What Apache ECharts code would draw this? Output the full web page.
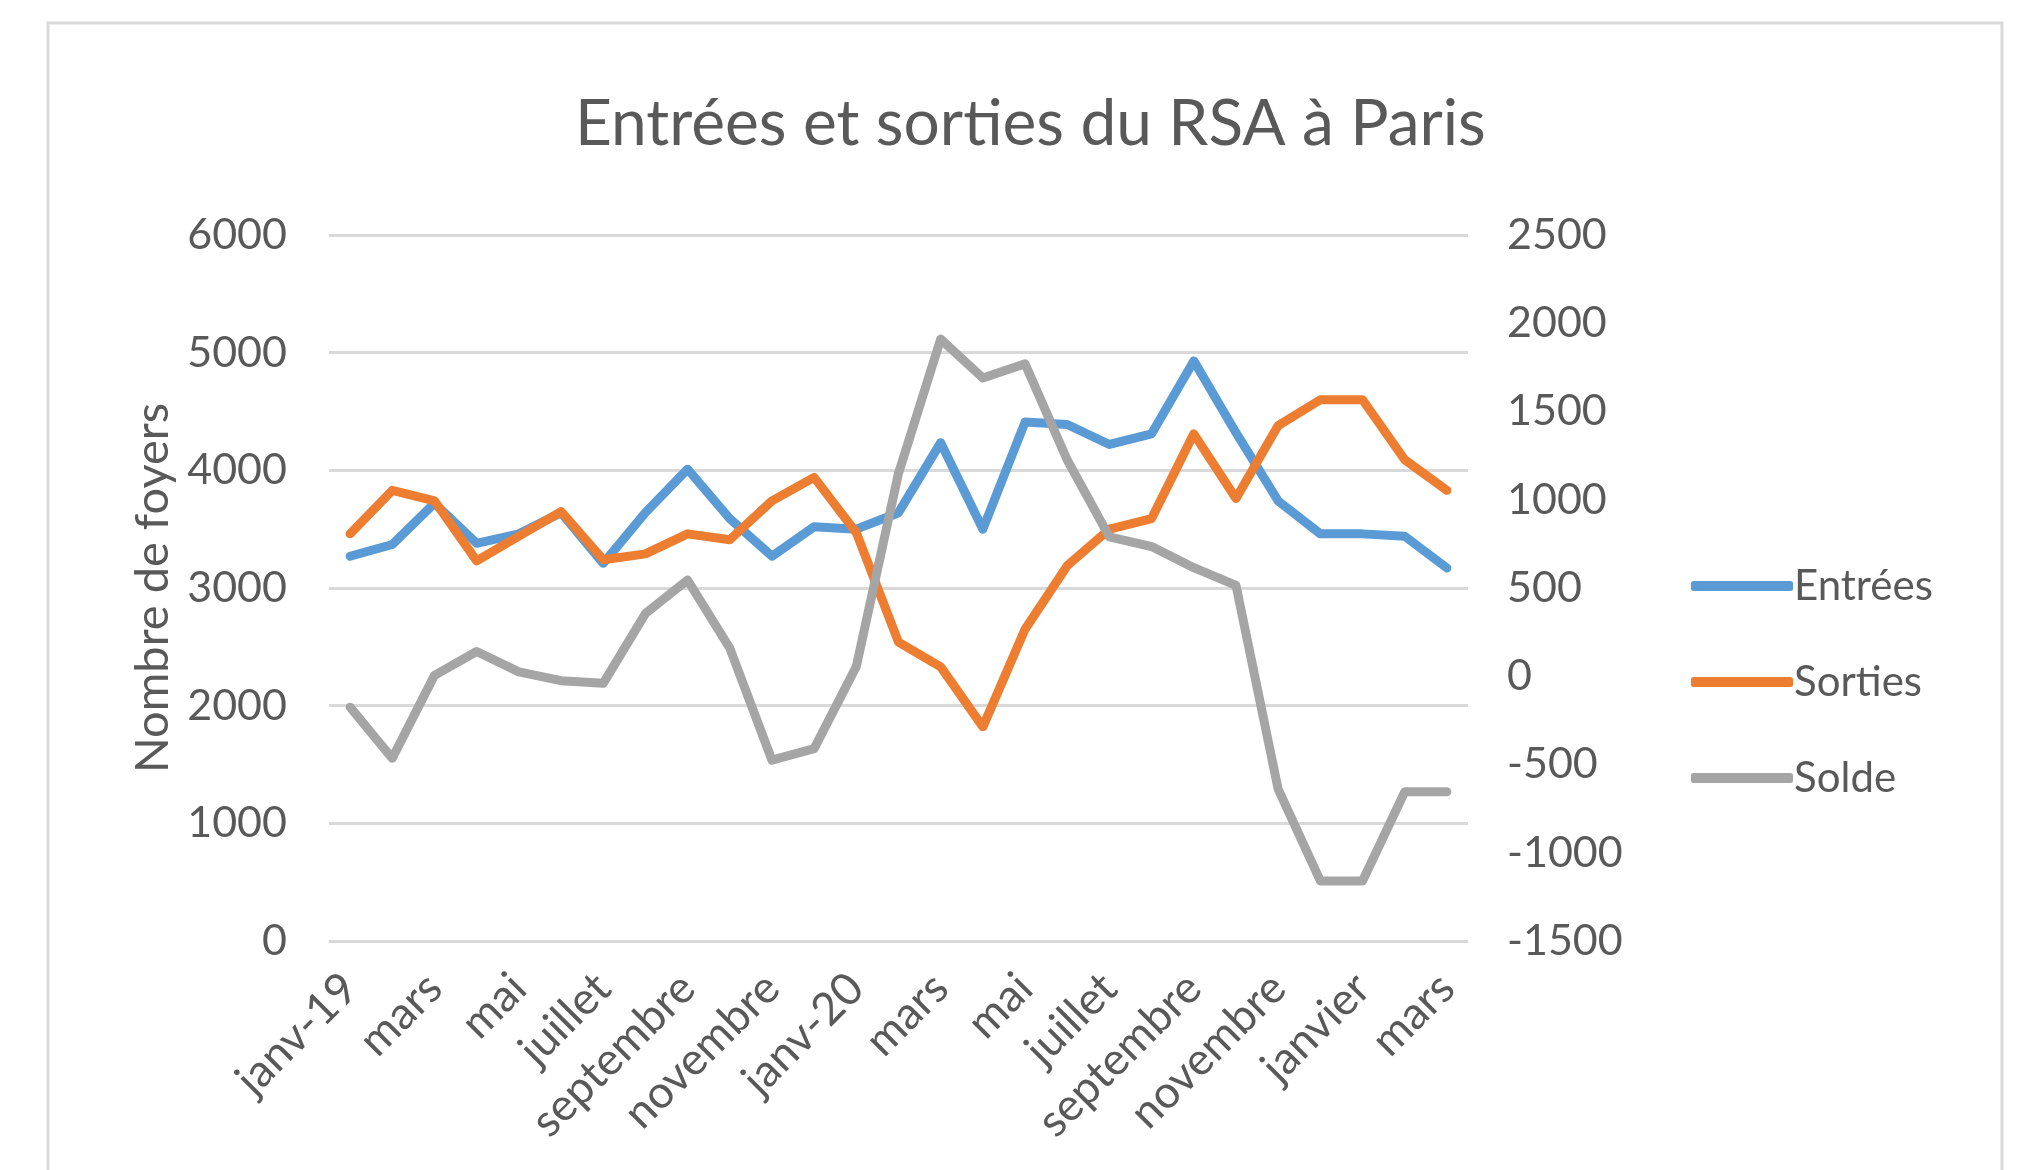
<!DOCTYPE html>
<html>
<head>
<meta charset="utf-8">
<script src="https://cdn.jsdelivr.net/npm/echarts@6/dist/echarts.min.js"></script>
<style>
html,body{margin:0;padding:0;background:#fff;}
#c{width:2025px;height:1170px;}
</style>
</head>
<body>
<div id="c"></div>
<script>
const categories = ['janv-19','févr','mars','avr','mai','juin','juillet','août','septembre','octobre','novembre','décembre','janv-20','févr','mars','avr','mai','juin','juillet','août','septembre','octobre','novembre','décembre','janvier','février','mars'];
const entrees = [3270, 3370, 3720, 3380, 3460, 3640, 3210, 3640, 4010, 3590, 3270, 3520, 3500, 3640, 4235, 3500, 4410, 4390, 4220, 4310, 4930, 4320, 3740, 3460, 3460, 3440, 3170];
const sorties = [3460, 3830, 3740, 3230, 3440, 3650, 3240, 3290, 3460, 3410, 3740, 3940, 3470, 2540, 2330, 1820, 2650, 3190, 3500, 3590, 4310, 3760, 4380, 4600, 4600, 4090, 3830];
const solde = [-175, -465, 5, 140, 25, -25, -40, 355, 545, 160, -475, -410, 55, 1150, 1910, 1690, 1770, 1225, 790, 735, 615, 515, -640, -1160, -1160, -655, -655];
const leftTicks = {min: 0, max: 6000, interval: 1000};
const rightTicks = {min: -1500, max: 2500, interval: 500};

const FONT = 'Lato';
const TXT = '#595959';
const chart = echarts.init(document.getElementById('c'), null, {renderer: 'canvas'});
const lineStyle = (c) => ({color: c, width: 9, cap: 'round', join: 'round'});
const plain = (v) => String(v);
chart.setOption({
  backgroundColor: '#ffffff',
  animation: false,
  textStyle: {fontFamily: FONT, color: TXT},
  graphic: [{
    type: 'rect', shape: {x: 48, y: 23, width: 1954, height: 1200},
    style: {fill: 'none', stroke: '#d9d9d9', lineWidth: 3}, silent: true, z: -1
  }],
  title: {
    text: 'Entrées et sorties du RSA à Paris',
    left: 570, top: 87,
    textStyle: {fontFamily: FONT, fontSize: 64, fontWeight: 'normal', color: TXT}
  },
  legend: {
    orient: 'vertical', left: 1686, top: 556,
    itemWidth: 102, itemHeight: 10, itemGap: 46,
    icon: 'roundRect',
    textStyle: {fontFamily: FONT, fontSize: 42, color: TXT, lineHeight: 50, padding: [0,0,0,-4]},
    data: ['Entrées', 'Sorties', 'Solde']
  },
  grid: {left: 329, right: 557, top: 235, height: 706, containLabel: false},
  xAxis: {
    type: 'category', data: categories, boundaryGap: true,
    axisLine: {show: false}, axisTick: {show: false},
    axisLabel: {interval: 1, rotate: 45, fontFamily: FONT, fontSize: 45, color: TXT, margin: 40,
      padding: [0, 0, 0, 0]},
    offset: 0
  },
  yAxis: [{
    type: 'value', min: leftTicks.min, max: leftTicks.max, interval: leftTicks.interval,
    name: 'Nombre de foyers', nameLocation: 'middle', nameGap: 150, nameRotate: 90,
    nameTextStyle: {fontFamily: FONT, fontSize: 47, color: TXT},
    axisLine: {show: false}, axisTick: {show: false},
    axisLabel: {fontFamily: FONT, fontSize: 43, color: TXT, margin: 42, formatter: plain},
    splitLine: {lineStyle: {color: '#d9d9d9', width: 3}}
  }, {
    type: 'value', position: 'right', min: rightTicks.min, max: rightTicks.max, interval: rightTicks.interval,
    axisLine: {show: false}, axisTick: {show: false},
    axisLabel: {fontFamily: FONT, fontSize: 43, color: TXT, margin: 39, formatter: plain},
    splitLine: {show: false}
  }],
  series: [
    {name: 'Entrées', type: 'line', data: entrees, yAxisIndex: 0, symbol: 'none', lineStyle: lineStyle('#5B9BD5'), itemStyle: {color: '#5B9BD5'}},
    {name: 'Sorties', type: 'line', data: sorties, yAxisIndex: 0, symbol: 'none', lineStyle: lineStyle('#ED7D31'), itemStyle: {color: '#ED7D31'}},
    {name: 'Solde', type: 'line', data: solde, yAxisIndex: 1, symbol: 'none', lineStyle: lineStyle('#A5A5A5'), itemStyle: {color: '#A5A5A5'}}
  ]
});
</script>
</body>
</html>
